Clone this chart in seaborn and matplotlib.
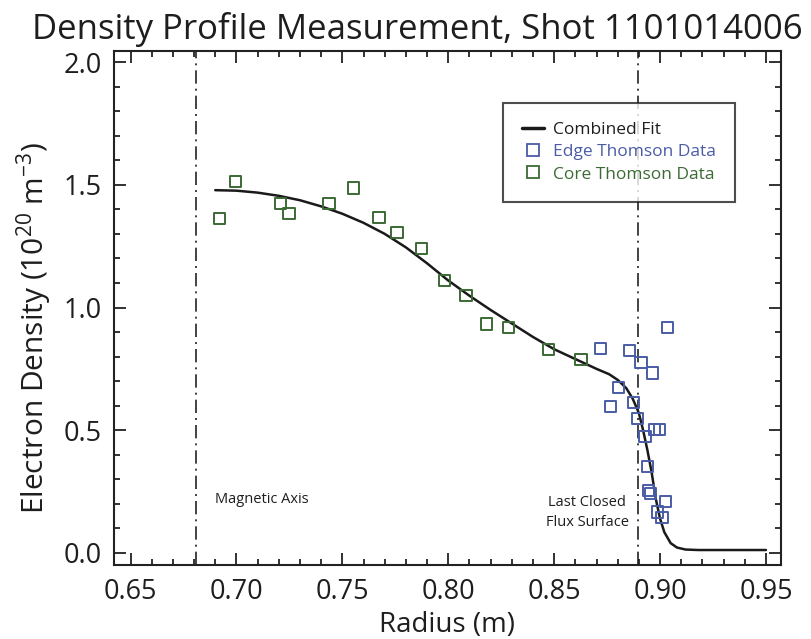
import matplotlib
matplotlib.use("Agg")
import matplotlib.pyplot as plt
from matplotlib.lines import Line2D
import seaborn as sns
import pandas as pd

# ---- data ----
core_r = [0.6918, 0.6997, 0.7209, 0.7248, 0.7437, 0.7554, 0.7673, 0.7758, 0.7875,
          0.7982, 0.8084, 0.8182, 0.8284, 0.8473, 0.8627]
core_n = [1.364, 1.514, 1.423, 1.384, 1.423, 1.487, 1.366, 1.307, 1.242,
          1.110, 1.049, 0.933, 0.920, 0.829, 0.788]

edge_r = [0.9036, 0.8720, 0.8855, 0.8910, 0.8966, 0.8803, 0.8764, 0.8876, 0.8893,
          0.8973, 0.8997, 0.8929, 0.8940, 0.8947, 0.8956, 0.9024, 0.8987, 0.9009]
edge_n = [0.917, 0.834, 0.824, 0.777, 0.733, 0.675, 0.597, 0.613, 0.546,
          0.502, 0.502, 0.473, 0.352, 0.256, 0.242, 0.209, 0.167, 0.144]

fit_r = [0.690, 0.700, 0.710, 0.720, 0.730, 0.740, 0.750, 0.760, 0.770, 0.780,
         0.790, 0.800, 0.810, 0.820, 0.830, 0.840, 0.850, 0.860, 0.870, 0.876,
         0.880, 0.884, 0.887, 0.890, 0.892, 0.894, 0.896, 0.898, 0.900, 0.902,
         0.905, 0.908, 0.912, 0.918, 0.930, 0.950]
fit_n = [1.478, 1.476, 1.468, 1.455, 1.437, 1.412, 1.382, 1.345, 1.300, 1.245,
         1.180, 1.110, 1.048, 0.990, 0.935, 0.880, 0.830, 0.790, 0.750, 0.728,
         0.705, 0.672, 0.630, 0.570, 0.500, 0.420, 0.330, 0.220, 0.140, 0.085,
         0.040, 0.022, 0.014, 0.012, 0.012, 0.012]

magnetic_axis_r = 0.6809
lcfs_r = 0.8898

x_ticks = [0.65, 0.70, 0.75, 0.80, 0.85, 0.90, 0.95]
y_ticks = [0.0, 0.5, 1.0, 1.5, 2.0]

GREEN = "#3b6a34"
BLUE = "#4a5ca6"
TXT = "#1e1e1e"

sns.set_theme(style="ticks")
plt.rcParams["font.family"] = ["Open Sans", "DejaVu Sans"]
plt.rcParams["mathtext.fontset"] = "custom"
plt.rcParams["mathtext.rm"] = "Open Sans"

fig = plt.figure(figsize=(8.12, 6.39), dpi=100)
ax = fig.add_axes([114 / 812, 1 - 564.5 / 639, (781 - 114) / 812, (564.5 - 51) / 639])

fit_df = pd.DataFrame({"r": fit_r, "n": fit_n})
core_df = pd.DataFrame({"r": core_r, "n": core_n})
edge_df = pd.DataFrame({"r": edge_r, "n": edge_n})

ax.axvline(magnetic_axis_r, color="#222222", lw=1.2, ls=(0, (8, 3, 1.2, 3)))
ax.axvline(lcfs_r, color="#222222", lw=1.2, ls=(0, (8, 3, 1.2, 3)))

sns.lineplot(data=fit_df, x="r", y="n", ax=ax, color="#1a1a1a", lw=1.8,
             sort=False, legend=False)
sns.scatterplot(data=core_df, x="r", y="n", ax=ax, marker="s", s=64,
                facecolor="none", edgecolor=GREEN, linewidth=1.4, legend=False, zorder=3)
sns.scatterplot(data=edge_df, x="r", y="n", ax=ax, marker="s", s=64,
                facecolor="none", edgecolor=BLUE, linewidth=1.4, legend=False, zorder=3)

ax.set_xlim(0.6422, 0.9571)
ax.set_ylim(-0.047, 2.045)
ax.set_xticks(x_ticks)
ax.set_xticklabels([f"{v:.2f}" for v in x_ticks])
ax.set_yticks(y_ticks)
ax.set_yticklabels([f"{v:.1f}" for v in y_ticks])
ax.set_xticks([0.64 + 0.01 * i for i in range(32) if 0.6422 < 0.64 + 0.01 * i < 0.9571], minor=True)
ax.set_yticks([0.1 * i for i in range(21)], minor=True)

for s in ax.spines.values():
    s.set_linewidth(1.5)
    s.set_color("#222222")
ax.tick_params(which="both", direction="in", top=True, right=True, colors="#222222",
               labelcolor=TXT, width=1.3)
ax.tick_params(which="major", length=8.5, labelsize=19.5)
ax.tick_params(axis="x", which="major", pad=10)
ax.tick_params(axis="y", which="major", pad=9)
ax.tick_params(which="minor", length=4)

ax.set_xlabel("Radius (m)", fontsize=20, color=TXT, labelpad=3)
ax.set_ylabel(r"Electron Density (10$^{20}$ m$^{-3}$)", fontsize=21.5, color=TXT, labelpad=6)
ax.yaxis.label.set_y(0.46)

fig.text(417.5 / 812, 1 - 39 / 639, "Density Profile Measurement, Shot 1101014006",
         ha="center", va="baseline", fontsize=25, color=TXT)

narrow = ["Liberation Sans Narrow", "Open Sans", "DejaVu Sans"]
ax.text(0.690, 0.216, "Magnetic Axis", ha="left", va="center", fontsize=10.5,
        color=TXT, family=narrow, fontweight="medium")
ax.text(0.8656, 0.1645, "Last Closed\nFlux Surface", ha="center", va="center",
        fontsize=10.5, color=TXT, family=narrow, linespacing=1.45,
        multialignment="center", fontweight="medium")

handles = [
    Line2D([], [], color="#1a1a1a", lw=2.5),
    Line2D([], [], ls="", marker="s", ms=8, mfc="none", mec=BLUE, mew=1.3),
    Line2D([], [], ls="", marker="s", ms=8, mfc="none", mec=GREEN, mew=1.3),
]
labels = ["Combined Fit", "Edge Thomson Data", "Core Thomson Data"]
leg = ax.legend(handles, labels, loc="upper right", bbox_to_anchor=(0.931, 0.899),
                fontsize=12.5, frameon=True, fancybox=False, edgecolor="#222222",
                handlelength=1.3, handletextpad=0.5, borderpad=1.1, labelspacing=0.35,
                borderaxespad=0)
leg.get_frame().set_linewidth(1.5)
for t, c in zip(leg.get_texts(), [TXT, BLUE, GREEN]):
    t.set_color(c)

fig.savefig("out.png", dpi=100)
